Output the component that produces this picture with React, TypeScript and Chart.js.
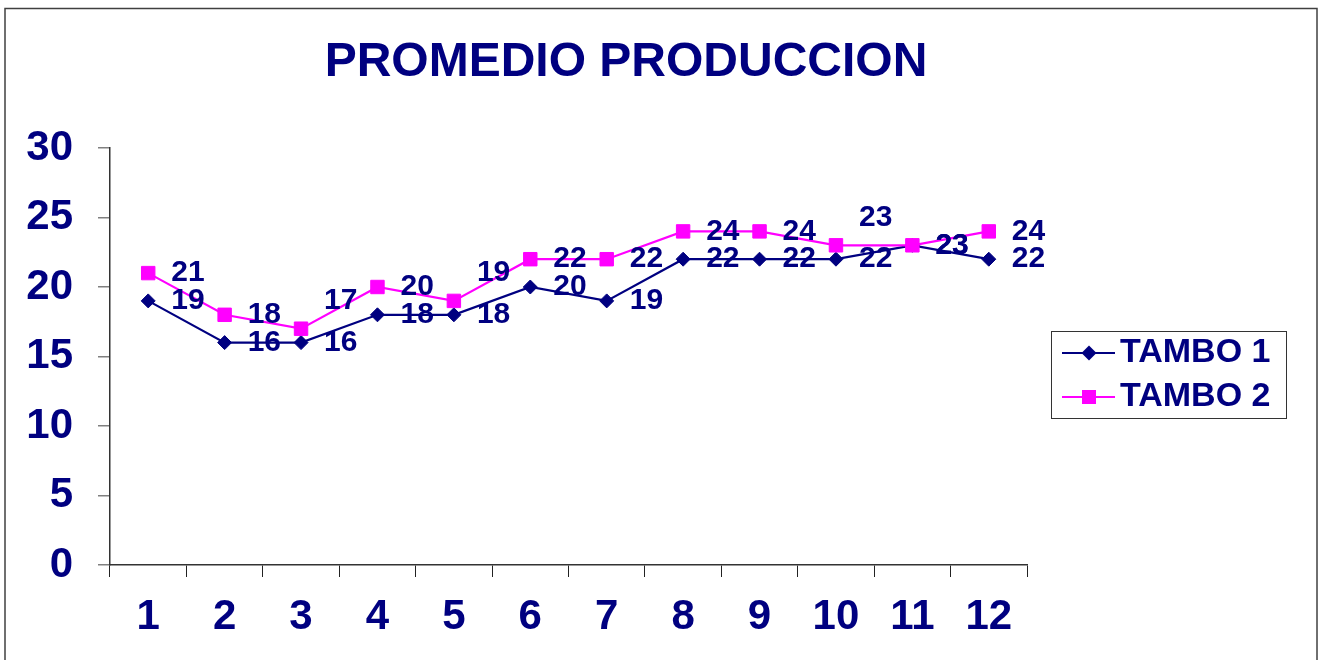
import React, { useEffect, useRef } from "react";
import { Chart, registerables } from "chart.js";

Chart.register(...registerables);

// ---- data ----
const titleText = "PROMEDIO PRODUCCION";
const categories = ["1", "2", "3", "4", "5", "6", "7", "8", "9", "10", "11", "12"];
const seriesNames = ["TAMBO 1", "TAMBO 2"];
const tambo1 = [19, 16, 16, 18, 18, 20, 19, 22, 22, 22, 23, 22];
const tambo2 = [21, 18, 17, 20, 19, 22, 22, 24, 24, 23, 23, 24];
const yMin = 0;
const yMax = 30;
const yStep = 5;

// ---- style ----
const NAVY = "#000080";
const MAGENTA = "#FF00FF";
const FONT = "'Liberation Sans', Arial, sans-serif";
// labels lifted above their point (dataset index -> point indices)
const liftedLabels: Record<number, number[]> = { 1: [2, 4, 9] };
const LABEL_LIFT = 28;

function drawDiamond(ctx: CanvasRenderingContext2D, x: number, y: number, r: number) {
  ctx.beginPath();
  ctx.moveTo(x, y - r);
  ctx.lineTo(x + r, y);
  ctx.lineTo(x, y + r);
  ctx.lineTo(x - r, y);
  ctx.closePath();
  ctx.fill();
}

const decorPlugin = {
  id: "decor",
  afterDatasetsDraw(chart: any) {
    const ctx: CanvasRenderingContext2D = chart.ctx;
    ctx.save();
    ctx.font = `bold 30px ${FONT}`;
    ctx.fillStyle = NAVY;
    ctx.textAlign = "left";
    ctx.textBaseline = "middle";
    chart.data.datasets.forEach((ds: any, di: number) => {
      const meta = chart.getDatasetMeta(di);
      meta.data.forEach((pt: any, i: number) => {
        const lift = liftedLabels[di] && liftedLabels[di].includes(i) ? LABEL_LIFT : 0;
        ctx.fillText(String(ds.data[i]), pt.x + 23, pt.y - lift);
      });
    });
    ctx.restore();
  },
  afterDraw(chart: any) {
    const ctx: CanvasRenderingContext2D = chart.ctx;
    ctx.save();
    // outer frame
    ctx.strokeStyle = "#404040";
    ctx.lineWidth = 1.5;
    ctx.strokeRect(5, 8.5, 1312, 700);

    // title
    ctx.font = `bold 48px ${FONT}`;
    ctx.fillStyle = NAVY;
    ctx.textAlign = "center";
    ctx.textBaseline = "middle";
    ctx.fillText(titleText, 626, 63);

    // legend
    ctx.strokeStyle = "#333333";
    ctx.lineWidth = 1;
    ctx.strokeRect(1051.5, 331.5, 235, 87);
    const rows = [353, 397];
    const colors = [NAVY, MAGENTA];
    rows.forEach((ry, i) => {
      ctx.strokeStyle = colors[i];
      ctx.lineWidth = 2;
      ctx.beginPath();
      ctx.moveTo(1062, ry);
      ctx.lineTo(1115, ry);
      ctx.stroke();
      ctx.fillStyle = colors[i];
      if (i === 0) drawDiamond(ctx, 1089, ry, 7.5);
      else ctx.fillRect(1082, ry - 7, 14, 14);
      ctx.fillStyle = NAVY;
      ctx.font = `bold 34px ${FONT}`;
      ctx.textAlign = "left";
      ctx.textBaseline = "middle";
      ctx.fillText(seriesNames[i], 1120, ry);
    });
    ctx.restore();
  },
};

export default function App() {
  const ref = useRef<HTMLCanvasElement | null>(null);

  useEffect(() => {
    if (!ref.current) return;
    const chart = new Chart(ref.current, {
      type: "line",
      data: {
        labels: categories,
        datasets: [
          {
            label: seriesNames[0],
            data: tambo1,
            borderColor: NAVY,
            backgroundColor: NAVY,
            borderWidth: 2.2,
            pointStyle: "rectRot",
            pointRadius: 7,
            pointBorderWidth: 1,
            pointBorderColor: NAVY,
            pointBackgroundColor: NAVY,
            tension: 0,
            order: 1,
          },
          {
            label: seriesNames[1],
            data: tambo2,
            borderColor: MAGENTA,
            backgroundColor: MAGENTA,
            borderWidth: 2.2,
            pointStyle: "rect",
            pointRadius: 9.5,
            pointBorderWidth: 1,
            pointBorderColor: MAGENTA,
            pointBackgroundColor: MAGENTA,
            tension: 0,
            order: 0,
          },
        ],
      },
      options: {
        responsive: false,
        animation: false,
        devicePixelRatio: 1,
        layout: { padding: { top: 148, right: 297, left: 0, bottom: 0 } },
        plugins: {
          legend: { display: false },
          title: { display: false },
          tooltip: { enabled: false },
        },
        events: [],
        scales: {
          x: {
            type: "category",
            offset: true,
            grid: {
              offset: true,
              drawOnChartArea: false,
              drawTicks: true,
              tickLength: 12,
              color: "#222222",
              lineWidth: 1,
            },
            border: { color: "#333333", width: 1.5 },
            ticks: {
              font: { family: FONT, size: 42, weight: "bold" },
              color: NAVY,
              padding: 15,
              maxRotation: 0,
              autoSkip: false,
            },
            afterFit: (s: any) => {
              s.height = 95;
            },
          },
          y: {
            min: yMin,
            max: yMax,
            ticks: {
              stepSize: yStep,
              font: { family: FONT, size: 42, weight: "bold" },
              color: NAVY,
              padding: 25,
            },
            grid: {
              drawOnChartArea: false,
              drawTicks: true,
              tickLength: 12,
              color: "#808080",
              lineWidth: 1.5,
            },
            border: { color: "#333333", width: 1.5 },
            afterFit: (s: any) => {
              s.width = 110;
            },
          },
        },
      } as any,
      plugins: [decorPlugin],
    });
    return () => chart.destroy();
  }, []);

  return (
    <div style={{ position: "absolute", left: 0, top: 0, width: 1324, height: 660, background: "#fff" }}>
      <canvas ref={ref} width={1324} height={660} style={{ display: "block" }} />
    </div>
  );
}
